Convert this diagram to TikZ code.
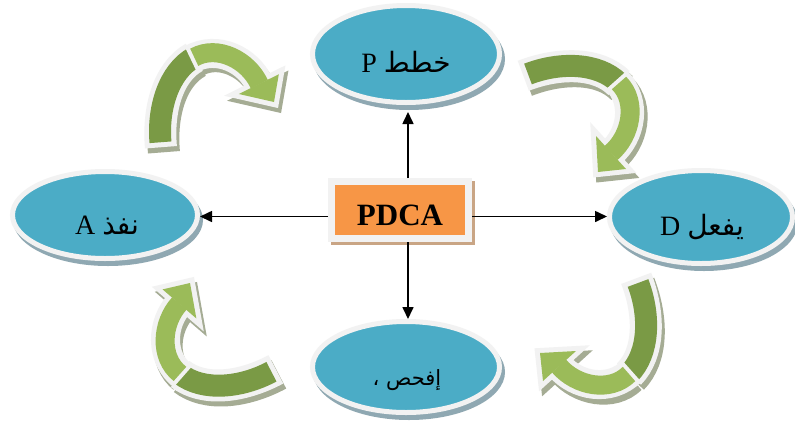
\documentclass[tikz,border=0pt]{standalone}
\usepackage{fontspec}
\setmainfont{Liberation Serif}
\newfontfamily\arabicfont[Script=Arabic]{DejaVu Sans}
\TeXXeTstate=1
\usetikzlibrary{arrows.meta,calc,shapes.geometric}
\definecolor{ellblue}{HTML}{4BACC6}
\definecolor{ringgray}{HTML}{F2F2F2}
\definecolor{ellshadow}{HTML}{8FA8B2}
\definecolor{boxorange}{HTML}{F79646}
\definecolor{boxshadow}{HTML}{C9A585}
\definecolor{gdark}{HTML}{7A9A45}
\definecolor{glight}{HTML}{9BBB59}
\definecolor{gshadow}{HTML}{A5AC94}
\newcommand\garrow[2]{%
  \begin{scope}[shift={#1}, shift={(3,5)}, rotate=#2]
    \draw[gshadow, line width=32pt, shorten <=-5pt] (-70,-98) .. controls (-39,-110) and (0,-110) .. (21,-89);
    \draw[gshadow, line width=29pt] (21,-89) .. controls (40,-70) and (33,-36) .. (13,-19);
    \filldraw[gshadow, line width=10pt, line join=miter] (28,-3) -- (0,0) -- (-2,-36) -- cycle;
  \end{scope}
  \begin{scope}[shift={#1}, rotate=#2]
    \draw[ringgray, line width=32pt, shorten <=-5pt] (-70,-98) .. controls (-39,-110) and (0,-110) .. (21,-89);
    \draw[gdark, line width=22pt] (-70,-98) .. controls (-39,-110) and (0,-110) .. (21,-89);
    \draw[ringgray, line width=29pt, shorten <=-4pt] (21,-89) .. controls (40,-70) and (33,-36) .. (13,-19);
    \draw[ringgray, line width=10pt, line join=miter] (28,-3) -- (0,0) -- (-2,-36) -- cycle;
    \draw[glight, line width=19pt] (21,-89) .. controls (40,-70) and (33,-36) .. (13,-19);
    \fill[glight] (28,-3) -- (0,0) -- (-2,-36) -- cycle;
  \end{scope}
}
\begin{document}
\begin{tikzpicture}[x=1pt,y=1pt,yscale=-1,
  ell/.style={ellipse, fill=ellblue, draw=ringgray, line width=5pt, inner sep=0pt},
  lat/.style={font=\fontsize{28}{28}\selectfont, inner sep=0pt, anchor=base},
  arb/.style={font=\arabicfont\fontsize{28}{28}\selectfont},
  pdcabox/.style={rectangle, fill=boxorange, draw=ringgray, line width=7pt, inner sep=0pt,
    minimum width=137pt, minimum height=57pt, text height=30.5pt, text depth=0pt,
    font=\bfseries\fontsize{31}{31}\selectfont},
  conn/.style={draw=black, line width=1.6pt, -{Triangle[length=12pt,width=11pt]}}]
\useasboundingbox (0,0) rectangle (795,424);
\fill[white] (0,0) rectangle (795,424);
% ellipse shadows
\fill[ellshadow] (409,59) ellipse[x radius=96, y radius=51];
\fill[ellshadow] (108,220) ellipse[x radius=95, y radius=46];
\fill[ellshadow] (704,222) ellipse[x radius=94, y radius=49];
\fill[ellshadow] (409,372) ellipse[x radius=96, y radius=48];
% ellipses
\node[ell, minimum width=187pt, minimum height=97pt] (P) at (406,54) {};
\node[ell, minimum width=185pt, minimum height=87pt] (A) at (105,215) {};
\node[ell, minimum width=183pt, minimum height=93pt] (D) at (701,217) {};
\node[ell, minimum width=187pt, minimum height=91pt] (C) at (406,367) {};
% labels
\node[lat] (tP) at (406,72) {P\ {\arabicfont\fontsize{28}{28}\selectfont\beginR خطط\endR}};
\node[lat] (tA) at (107,234) {A\ {\arabicfont\fontsize{28}{28}\selectfont\beginR نفذ\endR}};
\node[lat] (tD) at (702,235) {D\ {\arabicfont\fontsize{28}{28}\selectfont\beginR يفعل\endR}};
\node[lat] (tC) at (407,385) {\arabicfont\fontsize{21}{21}\selectfont\beginR إفحص ،\endR};
% PDCA box
\fill[boxshadow] (331,181) rectangle (475,245);
\node[pdcabox] (pdca) at (400,210) {PDCA};
% connectors
\coordinate (vu) at ($(pdca.north)+(8,0)$);
\coordinate (vd) at ($(pdca.south)+(8,0)$);
\coordinate (hl) at ($(pdca.west)+(0,6.5)$);
\coordinate (hr) at ($(pdca.east)+(0,6.5)$);
\draw[conn, shorten >=7pt] (vu) -- (vu |- P.south);
\draw[conn] (vd) -- (vd |- C.north);
\draw[conn] (hl) -- (hl -| A.east);
\draw[conn] (hr) -- (hr -| D.west);
% green curved arrows
\garrow{(274,102)}{-74}
\garrow{(598,172)}{0}
\garrow{(540,353)}{90}
\garrow{(190,283)}{173}
\end{tikzpicture}
\end{document}
